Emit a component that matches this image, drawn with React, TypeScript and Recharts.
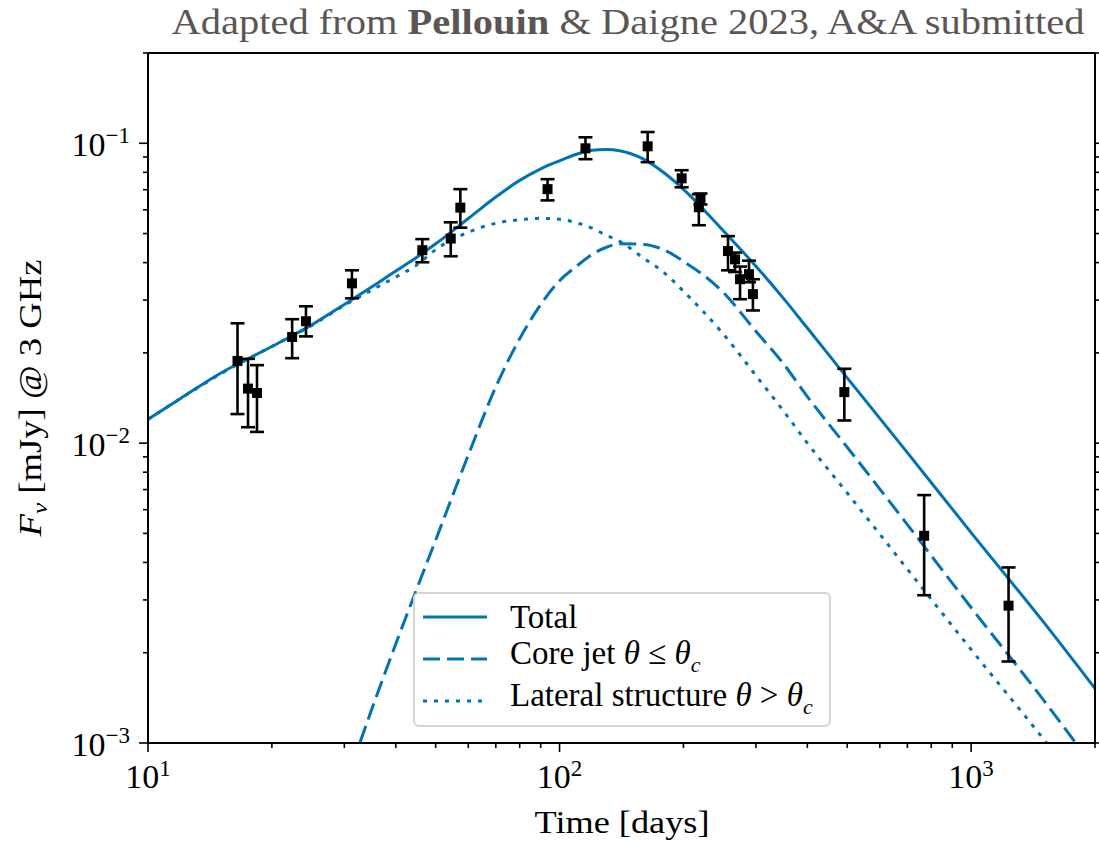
import React from "react";
import { ComposedChart, Line, Scatter, ErrorBar, XAxis, YAxis, Legend } from "recharts";

// model light curves, flux in mJy at 3 GHz
const modelTime = [10, 12, 15, 20, 25, 30, 35, 40, 45, 50, 60, 70, 80, 90, 100, 110, 120, 130, 140, 160, 180, 200, 250, 300, 350, 400, 500, 700, 1000, 1500, 2000];
const totalFlux = [0.012, 0.0141, 0.0171, 0.021, 0.0248, 0.029, 0.0332, 0.0375, 0.0417, 0.0462, 0.0561, 0.0662, 0.0752, 0.0822, 0.0874, 0.0919, 0.0947, 0.0953, 0.0944, 0.0885, 0.0794, 0.0702, 0.0511, 0.0389, 0.0304, 0.0242, 0.0165, 0.0093, 0.00503, 0.00253, 0.00152];
const coreFlux = [null, null, null, null, null, 0.00071, 0.0013, 0.00214, 0.00327, 0.00475, 0.00912, 0.0154, 0.0223, 0.029, 0.0348, 0.0389, 0.0426, 0.045, 0.0462, 0.046, 0.044, 0.0404, 0.0318, 0.0236, 0.0184, 0.0143, 0.00969, 0.00535, 0.00283, 0.00139, 0.00082];
const lateralFlux = [0.012, 0.0141, 0.017, 0.021, 0.0247, 0.0288, 0.0324, 0.0358, 0.0393, 0.0442, 0.0505, 0.0541, 0.0556, 0.0562, 0.0558, 0.0543, 0.0521, 0.0493, 0.0471, 0.0414, 0.0369, 0.0321, 0.0231, 0.0168, 0.0128, 0.01, 0.00682, 0.0038, 0.00205, 0.00103, 0.00062];

// observed points with lower / upper ends of the error bars
const obsTime = [16.5, 17.5, 18.4, 22.4, 24.2, 31.3, 46.4, 54.4, 57.4, 93.5, 115.6, 163.7, 198, 218, 220, 256.6, 267, 274.5, 288.6, 295, 492, 769, 1233];
const obsFlux = [0.0188, 0.0152, 0.0147, 0.0226, 0.0255, 0.0341, 0.044, 0.0481, 0.061, 0.0703, 0.0962, 0.0977, 0.0764, 0.0612, 0.065, 0.0437, 0.041, 0.0352, 0.0366, 0.0314, 0.0148, 0.00491, 0.00287];
const obsLow = [0.0125, 0.0113, 0.0109, 0.0192, 0.0227, 0.0304, 0.0401, 0.042, 0.0523, 0.0645, 0.0885, 0.0865, 0.0713, 0.0533, 0.0625, 0.0377, 0.0372, 0.0302, 0.0344, 0.0277, 0.0119, 0.00311, 0.00187];
const obsHigh = [0.0251, 0.0191, 0.0182, 0.0259, 0.0286, 0.0377, 0.0479, 0.0545, 0.0703, 0.0759, 0.1047, 0.109, 0.0813, 0.0676, 0.068, 0.049, 0.0432, 0.0388, 0.0406, 0.0352, 0.0177, 0.00671, 0.00385];

const xTicks = [10, 20, 30, 40, 50, 60, 70, 80, 90, 100, 200, 300, 400, 500, 600, 700, 800, 900, 1000, 2000];
const yTicks = [0.001, 0.002, 0.003, 0.004, 0.005, 0.006, 0.007, 0.008, 0.009, 0.01, 0.02, 0.03, 0.04, 0.05, 0.06, 0.07, 0.08, 0.09, 0.1, 0.2];

const modelData = modelTime.map((t, i) => ({ t, total: totalFlux[i], core: coreFlux[i], lateral: lateralFlux[i] }));
const obsData = obsTime.map((t, i) => ({ t, flux: obsFlux[i], err: [obsFlux[i] - obsLow[i], obsHigh[i] - obsFlux[i]] }));

const BLUE = "#0173b2";
const FONT = "'Liberation Serif', 'DejaVu Serif', serif";

const isDecade = (v: number) => Math.abs(Math.log10(v) - Math.round(Math.log10(v))) < 1e-6;
const expOf = (v: number) => Math.round(Math.log10(v));
const minus = (n: number) => (n < 0 ? "\u2212" + Math.abs(n) : String(n));

const BottomTick = (props: any) => {
  const { x, y, payload } = props;
  const major = isDecade(payload.value);
  return (
    <g>
      <line x1={x} y1={y} x2={x} y2={y + (major ? 9 : 5)} stroke="#000" strokeWidth={1.6} />
      {major && (
        <text x={x} y={y + 45} textAnchor="middle" fontFamily={FONT} fontSize={34} fill="#000">
          10<tspan dy={-12} fontSize={23}>{minus(expOf(payload.value))}</tspan>
        </text>
      )}
    </g>
  );
};

const TopTick = (props: any) => {
  const { x, y, payload } = props;
  const major = isDecade(payload.value);
  return <line x1={x} y1={y} x2={x} y2={y - (major ? 9 : 5)} stroke="#000" strokeWidth={1.6} />;
};

const LeftTick = (props: any) => {
  const { x, y, payload } = props;
  const major = isDecade(payload.value);
  return (
    <g>
      <line x1={x} y1={y} x2={x - (major ? 9 : 5)} y2={y} stroke="#000" strokeWidth={1.6} />
      {major && (
        <text x={x - 18} y={y + 13} textAnchor="end" fontFamily={FONT} fontSize={34} fill="#000">
          10<tspan dy={-13} fontSize={23}>{minus(expOf(payload.value))}</tspan>
        </text>
      )}
    </g>
  );
};

const RightTick = (props: any) => {
  const { x, y, payload } = props;
  const major = isDecade(payload.value);
  return <line x1={x} y1={y} x2={x + (major ? 9 : 5)} y2={y} stroke="#000" strokeWidth={1.6} />;
};

const SquareDot = (p: any) => <rect x={p.cx - 5} y={p.cy - 5} width={10} height={10} fill="#000" />;

const legendRows = [
  { key: "total", dash: undefined, label: <>Total</> },
  { key: "core", dash: "17 7", label: <>Core jet <i>θ</i> ≤ <i>θ</i><sub style={{ fontSize: 22 }}><i>c</i></sub></> },
  { key: "lateral", dash: "4 7", label: <>Lateral structure <i>θ</i> &gt; <i>θ</i><sub style={{ fontSize: 22 }}><i>c</i></sub></> },
];

const LegendBox = () => (
  <div
    style={{
      width: 418,
      height: 135,
      boxSizing: "border-box",
      border: "2px solid #d4d4d4",
      borderRadius: 6,
      background: "#fff",
      paddingTop: 2,
      fontFamily: FONT,
      fontSize: 33,
      color: "#000",
    }}
  >
    {legendRows.map((r) => (
      <div key={r.key} style={{ display: "flex", alignItems: "center", height: 42 }}>
        <svg width={64} height={10} style={{ marginLeft: 8, marginRight: 23, flexShrink: 0 }}>
          <line x1={0} y1={5} x2={64} y2={5} stroke={BLUE} strokeWidth={3} strokeDasharray={r.dash} />
        </svg>
        <span style={{ lineHeight: "34px", whiteSpace: "nowrap" }}>{r.label}</span>
      </div>
    ))}
  </div>
);

export default function App() {
  return (
    <div style={{ position: "absolute", left: 0, top: 0, width: 1099, height: 842, background: "#fff" }}>
      <ComposedChart width={1099} height={842} data={modelData} margin={{ top: 52, right: 3, bottom: 98, left: 147 }}>
        <XAxis
          dataKey="t"
          type="number"
          scale="log"
          domain={[10, 2000]}
          allowDataOverflow
          ticks={xTicks}
          interval={0}
          height={1}
          tickSize={0}
          tickMargin={0}
          tick={<BottomTick />}
          axisLine={{ stroke: "#000", strokeWidth: 2 }}
        />
        <XAxis
          xAxisId="top"
          orientation="top"
          type="number"
          scale="log"
          domain={[10, 2000]}
          allowDataOverflow
          ticks={xTicks}
          interval={0}
          height={1}
          tickSize={0}
          tickMargin={0}
          tick={<TopTick />}
          axisLine={{ stroke: "#000", strokeWidth: 2 }}
        />
        <YAxis
          type="number"
          scale="log"
          domain={[0.001, 0.2]}
          allowDataOverflow
          ticks={yTicks}
          interval={0}
          width={1}
          tickSize={0}
          tickMargin={0}
          tick={<LeftTick />}
          axisLine={{ stroke: "#000", strokeWidth: 2 }}
        />
        <YAxis
          yAxisId="right"
          orientation="right"
          type="number"
          scale="log"
          domain={[0.001, 0.2]}
          allowDataOverflow
          ticks={yTicks}
          interval={0}
          width={1}
          tickSize={0}
          tickMargin={0}
          tick={<RightTick />}
          axisLine={{ stroke: "#000", strokeWidth: 2 }}
        />
        <Line type="monotone" dataKey="total" stroke={BLUE} strokeWidth={3} dot={false} isAnimationActive={false} />
        <Line type="monotone" dataKey="core" stroke={BLUE} strokeWidth={3} strokeDasharray="17 7" dot={false} isAnimationActive={false} />
        <Line type="monotone" dataKey="lateral" stroke={BLUE} strokeWidth={3} strokeDasharray="4 7" dot={false} isAnimationActive={false} />
        <Scatter data={obsData} dataKey="flux" fill="#000" shape={SquareDot} isAnimationActive={false}>
          <ErrorBar dataKey="err" direction="y" width={7} stroke="#000" strokeWidth={2.6} isAnimationActive={false} />
        </Scatter>
        <Legend
          layout="vertical"
          align="center"
          verticalAlign="middle"
          content={() => <LegendBox />}
          wrapperStyle={{ left: 413, top: 592, width: 418, height: 135 }}
        />
        <text x={628} y={34} textAnchor="middle" fontFamily={FONT} fontSize={35} fill="#5b5555" textLength={913} lengthAdjust="spacingAndGlyphs">
          Adapted from <tspan fontWeight="bold">Pellouin</tspan> &amp; Daigne 2023, A&amp;A submitted
        </text>
        <text x={622} y={833} textAnchor="middle" fontFamily={FONT} fontSize={32} fill="#000" textLength={175} lengthAdjust="spacingAndGlyphs">
          Time [days]
        </text>
        <text transform="rotate(-90)" x={-398} y={41} textAnchor="middle" fontFamily={FONT} fontSize={32} fill="#000" textLength={277} lengthAdjust="spacingAndGlyphs">
          <tspan fontStyle="italic">F</tspan>
          <tspan fontStyle="italic" fontSize={22} dy={6}>ν</tspan>
          <tspan dy={-6}> [mJy] @ 3 GHz</tspan>
        </text>
      </ComposedChart>
    </div>
  );
}
